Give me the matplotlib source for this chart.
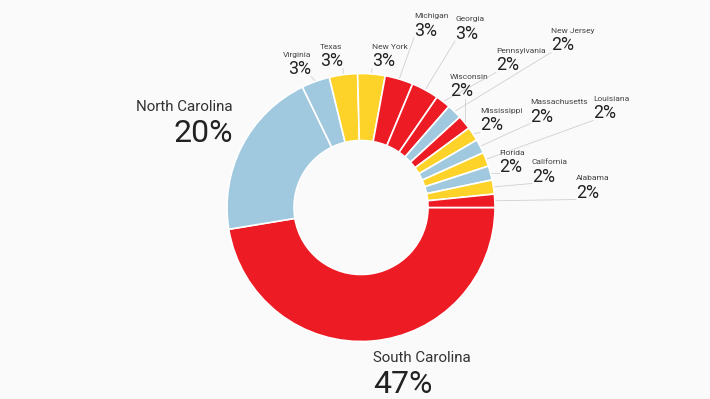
import numpy as np
import matplotlib
matplotlib.use('Agg')
import matplotlib.pyplot as plt
from matplotlib.transforms import Bbox

states = ['South Carolina', 'North Carolina', 'Virginia', 'Texas', 'New York', 'Michigan', 'Georgia',
          'Pennsylvania', 'New Jersey', 'Wisconsin', 'Mississippi', 'Massachusetts', 'Louisiana',
          'Florida', 'California', 'Alabama']
shares = [47.4, 20.4, 3.4, 3.4, 3.3, 3.4, 3.3, 1.8, 1.8, 1.7, 1.7, 1.7, 1.7, 1.7, 1.7, 1.6]

red, blue, yellow = '#ED1C24', '#A0C9DF', '#FDD329'
colors = [red, blue, blue, yellow, yellow, red, red,
          red, blue, red, yellow, blue, yellow, blue, yellow, red]

# label layout in pixels: x, baseline of the name, alignment, big text
label_pos = [(373, 362, 'left', True), (233, 111, 'right', True), (311, 57, 'right', False),
             (320, 49, 'left', False), (372, 49, 'left', False), (414, 18, 'left', False),
             (455, 21.5, 'left', False), (496, 53, 'left', False), (551, 33, 'left', False),
             (450, 79, 'left', False), (480, 113, 'left', False), (530, 104, 'left', False),
             (593, 101, 'left', False), (499, 155, 'left', False), (532, 164, 'left', False),
             (576, 180, 'left', False)]

bg = '#FAFAFA'
W, H = 710, 399
cx, cy, R = 361, 207.5, 134

plt.rcParams['font.family'] = ['Roboto', 'DejaVu Sans']
fig = plt.figure(figsize=(W / 100, H / 100), dpi=100, facecolor=bg)
ax = fig.add_axes([0, 0, 1, 1])
ax.set_facecolor(bg)

wedges, _ = ax.pie(shares, colors=colors, startangle=0, counterclock=True, radius=R, center=(cx, cy),
                   wedgeprops=dict(width=67, edgecolor='white', linewidth=1.2))
ax.set_xlim(0, W)
ax.set_ylim(H, 0)
ax.set_aspect('auto')
ax.set_axis_off()

renderer = fig.canvas.get_renderer()
for st, v, w, (lx, ly, ha, big) in zip(states, shares, wedges, label_pos):
    if big:
        t1 = ax.text(lx, ly, st, fontsize=10.9, color='#333333', ha=ha, va='baseline')
        t2 = ax.text(lx, ly + 31, f"{v:.0f}%", fontsize=23, color='#222222', ha=ha, va='baseline')
        continue
    t1 = ax.text(lx, ly, st, fontsize=6, color='#444444', ha=ha, va='baseline')
    t2 = ax.text(lx, ly + 17.5, f"{v:.0f}%", fontsize=12.8, color='#222222', ha=ha, va='baseline')
    bb = Bbox.union([t1.get_window_extent(renderer), t2.get_window_extent(renderer)])
    bb = bb.transformed(ax.transData.inverted())
    x0, x1 = sorted([bb.x0, bb.x1])
    y0, y1 = sorted([bb.y0, bb.y1])
    mid = np.deg2rad((w.theta1 + w.theta2) / 2)
    px, py = cx + R * np.cos(mid), cy + R * np.sin(mid)
    ex, ey = np.clip(px, x0, x1), np.clip(py, y0, y1 - 2)
    ax.plot([px, ex], [py, ey], color='#D0D0D0', lw=0.6, zorder=0)

fig.savefig('out.png', dpi=100, facecolor=bg)
